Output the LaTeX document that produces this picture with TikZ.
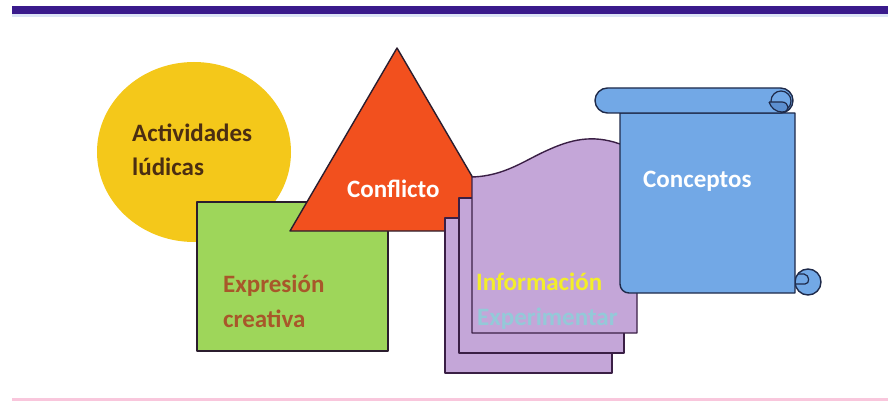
\documentclass[tikz,border=0pt]{standalone}
\usepackage{fontspec}
\setmainfont{Carlito}
\definecolor{barc}{HTML}{3A1A8C}
\definecolor{barlight}{HTML}{DCE4F6}
\definecolor{pinkc}{HTML}{F9C6DC}
\definecolor{yel}{HTML}{F4C81A}
\definecolor{grn}{HTML}{9ED65A}
\definecolor{org}{HTML}{F2501E}
\definecolor{pur}{HTML}{C4A6D8}
\definecolor{blu}{HTML}{72A8E6}
\definecolor{bludark}{HTML}{5C8FD0}
\definecolor{edge}{HTML}{2B1D2E}
\definecolor{pedge}{HTML}{3A1F45}
\definecolor{bedge}{HTML}{1E2A4A}
\definecolor{tbrown}{HTML}{4B2E12}
\definecolor{texpr}{HTML}{A8572A}
\definecolor{tinfo}{HTML}{F3EE2A}
\definecolor{texp}{HTML}{94C9D8}
\tikzset{
  shapeline/.style={draw=edge, line width=1.4pt, line join=round},
  sheet/.style={draw=pedge, fill=pur, line width=1.4pt, line join=round},
  scroll/.style={draw=bedge, fill=blu, line width=1.4pt, line join=round},
  lbl/.style={anchor=base west, inner sep=0pt, font=\fontsize{25}{30}\selectfont\bfseries}
}
\begin{document}
\begin{tikzpicture}[x=1pt,y=-1pt]
\useasboundingbox (0,0) rectangle (888,401);
\fill[white] (0,0) rectangle (888,401);
% top bar and bottom line
\fill[barlight] (12,13) rectangle (888,17);
\fill[barc] (12,6) rectangle (888,14);
\fill[pinkc] (12,398) rectangle (888,401);
% circle
\fill[yel] (194,152) ellipse[x radius=97, y radius=90];
% green square
\draw[shapeline, fill=grn] (197,202) rectangle (388,351);
% triangle
\draw[shapeline, fill=org] (397,48) -- (290,231) -- (504,231) -- cycle;
% purple sheets
\draw[sheet] (445,218) rectangle (612,373);
\draw[sheet] (459,198) rectangle (624,353);
\draw[sheet] (472,177) .. controls (505,176) and (525,160) .. (548,150)
  .. controls (570,140) and (592,134) .. (620,144) -- (637,149) -- (637,333) -- (472,333) -- cycle;
% scroll
\draw[scroll] (808,282) circle[radius=13];
\draw[scroll] (620,113) [rounded corners=9pt]-- (620,293) [sharp corners]-- (795,293) -- (795,113) -- cycle;
\draw[scroll, rounded corners=12.5pt] (595,88) rectangle (793,113);
\draw[bedge, line width=1.2pt] (781,101) circle[radius=10];
\draw[bedge, line width=1.2pt, fill=bludark] (769,102) -- (782,102) .. controls (789,102) and (791,112) .. (782,112) .. controls (776,112) and (771,108) .. (769,102);
\draw[bedge, line width=1.2pt] (796,284) -- (805,284) .. controls (810,284) and (810,275) .. (804,274) -- (798,274);
% texts
\node[lbl, text=tbrown] (t1) at (132,142) {Actividades};
\node[lbl, text=tbrown] (t2) at (132,175) {lúdicas};
\node[lbl, text=white] (t3) at (347,197) {Conflicto};
\node[lbl, text=texpr] (t4) at (223,292) {Expresión};
\node[lbl, text=texpr] (t5) at (223,327) {creativa};
\node[lbl, text=tinfo] (t6) at (476,290) {Información};
\node[lbl, text=texp] (t7) at (477,325) {Experimentar};
\node[lbl, text=white] (t8) at (643,187) {Conceptos};
\end{tikzpicture}
\end{document}
